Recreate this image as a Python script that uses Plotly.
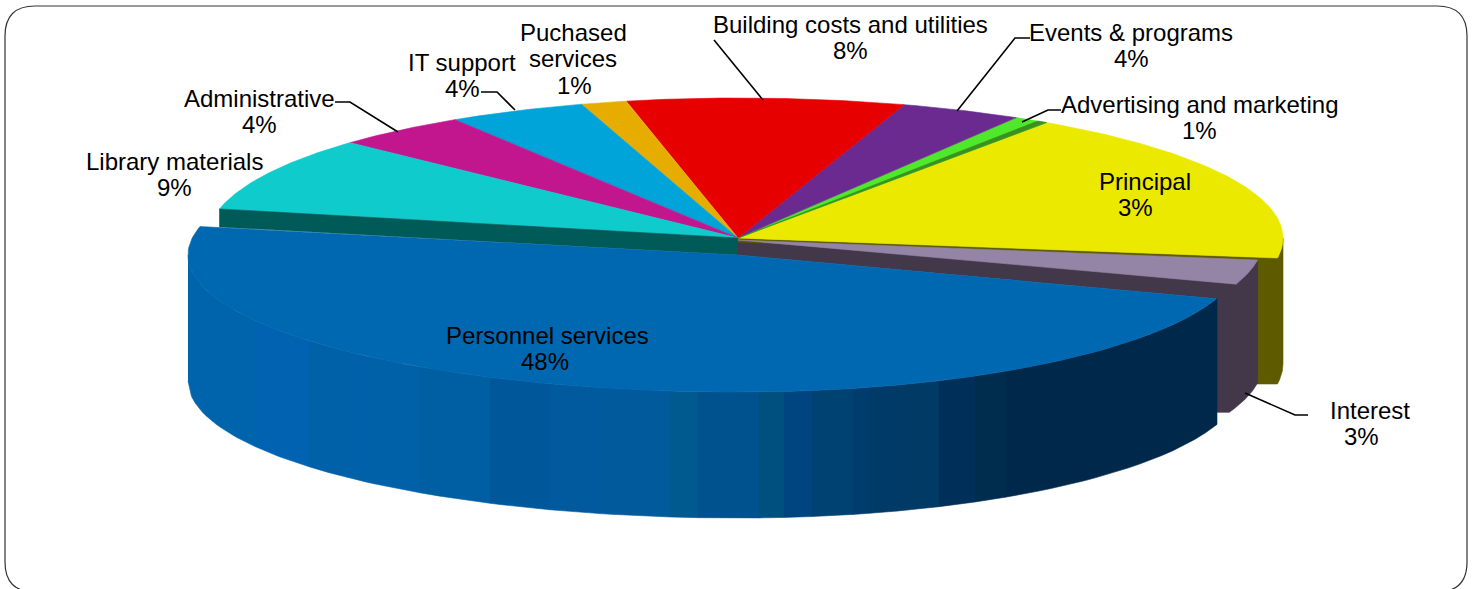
import numpy as np
import plotly.graph_objects as go

# Data (counter-clockwise from the Principal slice)
categories = ["Principal", "Advertising and marketing", "Events & programs",
              "Building costs and utilities", "Puchased services", "IT support",
              "Administrative", "Library materials", "Personnel services", "Interest"]
label_pct = ["3%", "1%", "4%", "8%", "1%", "4%", "4%", "9%", "48%", "3%"]
# slice size as drawn (percent of the full turn)
slice_share = [17.7, 1.05, 3.6, 8.3, 1.4, 4.2, 4.1, 8.6, 48.15, 2.9]
top_colors = ["#ebe900", "#4fe82a", "#6a2a90", "#e60000", "#e6ac00", "#00a4d8",
              "#c2168f", "#0fcbcb", "#0068b0", "#9485a7"]

START = -8.2
edges = START + np.concatenate([[0], np.cumsum(slice_share)]) * 3.6

fig = go.Figure()


def poly(xs, ys, color):
    fig.add_trace(go.Scatter(x=list(xs), y=list(ys), mode="lines", fill="toself",
                             fillcolor=color, line=dict(color=color, width=0.6),
                             hoverinfo="skip", showlegend=False))


def arc(t0, t1, cx, cy, al, ar, bu, bd, n=80):
    t = np.radians(np.linspace(t0, t1, n))
    c, s = np.cos(t), np.sin(t)
    x = cx + c * np.where(c >= 0, ar, al)
    y = cy - s * np.where(s >= 0, bu, bd)
    return x, y


MAIN = dict(cx=738, cy=238, al=530, ar=545, bu=140, bd=140)
PERS = dict(cx=738, cy=255, al=550, ar=505, bu=137, bd=137)
INT = dict(cx=738, cy=240, al=525, ar=525, bu=140, bd=140)
DEPTH = 126

i_pr, i_ad, i_ev, i_bu, i_pu, i_it, i_am, i_li, i_pe, i_in = range(10)

# Principal side (olive): silhouette runs straight down from the rim's widest point
x, y = arc(edges[i_pr], 0, **MAIN)
poly(np.r_[1240, x, x[::-1], 1240], np.r_[y[0], y, y[::-1] + DEPTH, y[0] + DEPTH], "#5e5a00")

# Interest side (dark)
x_in, y_in = arc(edges[i_in + 1] - 360, edges[i_in] - 360 - 2, **INT)
x_pe, y_pe = arc(edges[i_pe + 1] - 360, edges[i_pe + 1] - 360, **PERS, n=2)
poly(np.r_[738, x_in[0], x_in, x_pe[0], x_pe[0], 738],
     np.r_[240, y_in[0], y_in + 123, y_in[-1] + 123, y_pe[0], 255], "#43384a")

# Thin olive edge under the Principal slice
x, y = arc(edges[i_pr], edges[i_pr], **MAIN, n=2)
poly([738, x[0], x[0], 738], [238, y[0], y[0] + 4, 242], "#5e5a00")

# Principal top and the small top slices
for i in [i_pr, i_ad, i_ev, i_bu, i_pu, i_it, i_am, i_li]:
    x, y = arc(edges[i], edges[i + 1], **MAIN)
    poly(np.r_[738, x, 738], np.r_[238, y, 238], top_colors[i])

# Advertising slice, dark edge
x, y = arc(edges[i_ad], edges[i_ad] + 1.1, **MAIN)
poly(np.r_[738, x, 738], np.r_[238, y, 238], "#3a9020")

# Interest top
x, y = arc(edges[i_in], edges[i_in + 1], **INT)
poly(np.r_[738, x, 738], np.r_[240, y, 240], top_colors[i_in])

# Library side (dark teal)
x, y = arc(edges[i_li + 1], edges[i_li + 1], **MAIN, n=2)
poly([738, x[0], x[0], 738], [238, y[0], y[0] + 18, 255], "#005a58")

# Personnel side strips
strip_edges = [188, 255, 310, 365, 420, 490, 550, 600, 670, 698, 759, 784, 812,
               853, 869, 898, 939, 975, 1005, 1217]
strip_colors = ["#0064ac", "#0062b0", "#0060a8", "#0061a9", "#005fa2", "#00589b",
                "#005a9d", "#005a9c", "#005a90", "#00528f", "#00507f", "#00457f",
                "#004272", "#003c6e", "#003a68", "#003a65", "#00305a", "#002d4e",
                "#00284a"]
pc = PERS
for x0, x1, col in zip(strip_edges[:-1], strip_edges[1:], strip_colors):
    xs = np.linspace(x0, x1, 20)
    a = np.where(xs < pc["cx"], pc["al"], pc["ar"])
    ys = pc["cy"] + pc["bd"] * np.sqrt(np.clip(1 - ((xs - pc["cx"]) / a) ** 2, 0, 1))
    poly(np.r_[xs, xs[::-1]], np.r_[ys, ys[::-1] + DEPTH], col)

# Personnel top
x, y = arc(edges[i_pe], edges[i_pe + 1], **PERS, n=200)
poly(np.r_[738, x, 738], np.r_[255, y, 255], "#0068b0")

# Labels: category text and percent lines
line_pos = {
    "Principal": [("Principal", 1145, 181), ("3%", 1135, 207)],
    "Advertising and marketing": [("Advertising and marketing", 1199, 104), ("1%", 1199, 130)],
    "Events & programs": [("Events & programs", 1131, 32), ("4%", 1131, 58)],
    "Building costs and utilities": [("Building costs and utilities", 850, 24), ("8%", 850, 50)],
    "Puchased services": [("Puchased", 573, 32), ("services", 573, 58), ("1%", 574, 85)],
    "IT support": [("IT support", 462, 62), ("4%", 462, 88)],
    "Administrative": [("Administrative", 259, 98), ("4%", 259, 124)],
    "Library materials": [("Library materials", 174, 161), ("9%", 174, 187)],
    "Personnel services": [("Personnel services", 547, 335), ("48%", 545, 361)],
    "Interest": [("Interest", 1370, 410), ("3%", 1361, 436)],
}
annotations = []
for cat, pct in zip(categories, label_pct):
    for text, lx, ly in line_pos[cat]:
        annotations.append(dict(x=lx, y=ly, text=text, showarrow=False,
                                xanchor="center", yanchor="middle",
                                font=dict(family="Liberation Sans", size=24, color="#000000")))

leaders = ["M714,40 L763,100", "M1030,38 L1015,38 L957,111", "M1061,110 L1048,110 L1022,122",
           "M1245,393 L1295,415 L1308,415", "M481,92 L497,92 L515,110", "M335,102 L350,102 L398,132"]
shapes = [dict(type="path", path=p, line=dict(color="#000000", width=1.6), xref="x", yref="y")
          for p in leaders]
shapes.append(dict(type="path", xref="x", yref="y", line=dict(color="#333333", width=1.2),
                   path="M35,6 L1437,6 Q1467,6 1467,36 L1467,562 Q1467,592 1437,592 L35,592 Q5,592 5,562 L5,36 Q5,6 35,6 Z"))

fig.update_layout(
    width=1472, height=589, autosize=False,
    margin=dict(l=0, r=0, t=0, b=0),
    paper_bgcolor="#ffffff", plot_bgcolor="#ffffff",
    xaxis=dict(range=[0, 1472], visible=False, fixedrange=True),
    yaxis=dict(range=[589, 0], visible=False, fixedrange=True),
    annotations=annotations, shapes=shapes, showlegend=False,
)
fig.write_html("out.html", config={"displayModeBar": False},
               post_script="document.body.style.margin='0';document.body.style.overflow='hidden';")
